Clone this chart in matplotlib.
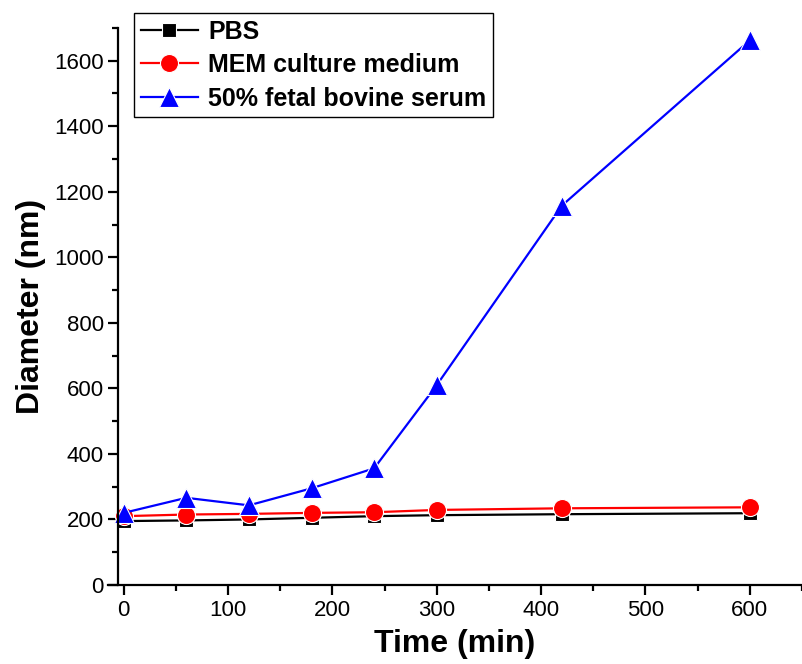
import numpy as np
import matplotlib.pyplot as plt

plt.rcParams['font.family'] = ['Liberation Sans', 'DejaVu Sans']

# sampling times (min)
time_min = [0, 60, 120, 180, 240, 300, 420, 600]

# particle diameter (nm) in each medium
pbs = [195, 197, 200, 205, 210, 213, 216, 219]
mem = [210, 215, 217, 220, 222, 229, 234, 237]
fbs = [220, 266, 243, 295, 356, 610, 1158, 1662]

fig = plt.figure(figsize=(8.02, 6.64), dpi=100)
ax = fig.add_axes([0.1347, 0.119, 0.8653, 0.839])

ax.plot(time_min, pbs, color='black', marker='s', ms=10, lw=1.6,
        mec='white', mew=0.8, label='PBS')
ax.plot(time_min, mem, color='red', marker='o', ms=13, lw=1.6,
        mec='white', mew=0.8, label='MEM culture medium')
ax.plot(time_min, fbs, color='blue', marker='^', ms=14, lw=1.6,
        mec='white', mew=0.8, label='50% fetal bovine serum')

ax.set_xlim(-15, 643)
ax.set_ylim(0, 1690)
ax.set_xticks(np.arange(0, 601, 100))
ax.set_xticks(np.arange(50, 651, 100), minor=True)
ax.set_yticks(np.arange(0, 1601, 200))
ax.set_yticks(np.arange(100, 1701, 200), minor=True)

ax.spines['top'].set_visible(False)
ax.spines['right'].set_visible(False)
# y axis sits slightly right of the x-axis start
ax.spines['left'].set_position(('data', -5))
for s in ('left', 'bottom'):
    ax.spines[s].set_linewidth(1.6)
ax.tick_params(which='major', direction='out', length=7, width=1.6, labelsize=16)
ax.tick_params(which='minor', direction='out', length=4, width=1.6)

ax.set_xlabel('Time (min)', fontsize=23, fontweight='bold', labelpad=6)
ax.set_ylabel('Diameter (nm)', fontsize=23, fontweight='bold', labelpad=6)

leg = ax.legend(loc='upper left', bbox_to_anchor=(0.038, 1.026),
                prop={'weight': 'bold', 'size': 18}, frameon=True, fancybox=False,
                edgecolor='black', framealpha=1, borderpad=0.25, labelspacing=0.38,
                handlelength=2.3, handletextpad=0.4, borderaxespad=0)
leg.get_frame().set_linewidth(1.0)

fig.savefig('out.png', dpi=100)
